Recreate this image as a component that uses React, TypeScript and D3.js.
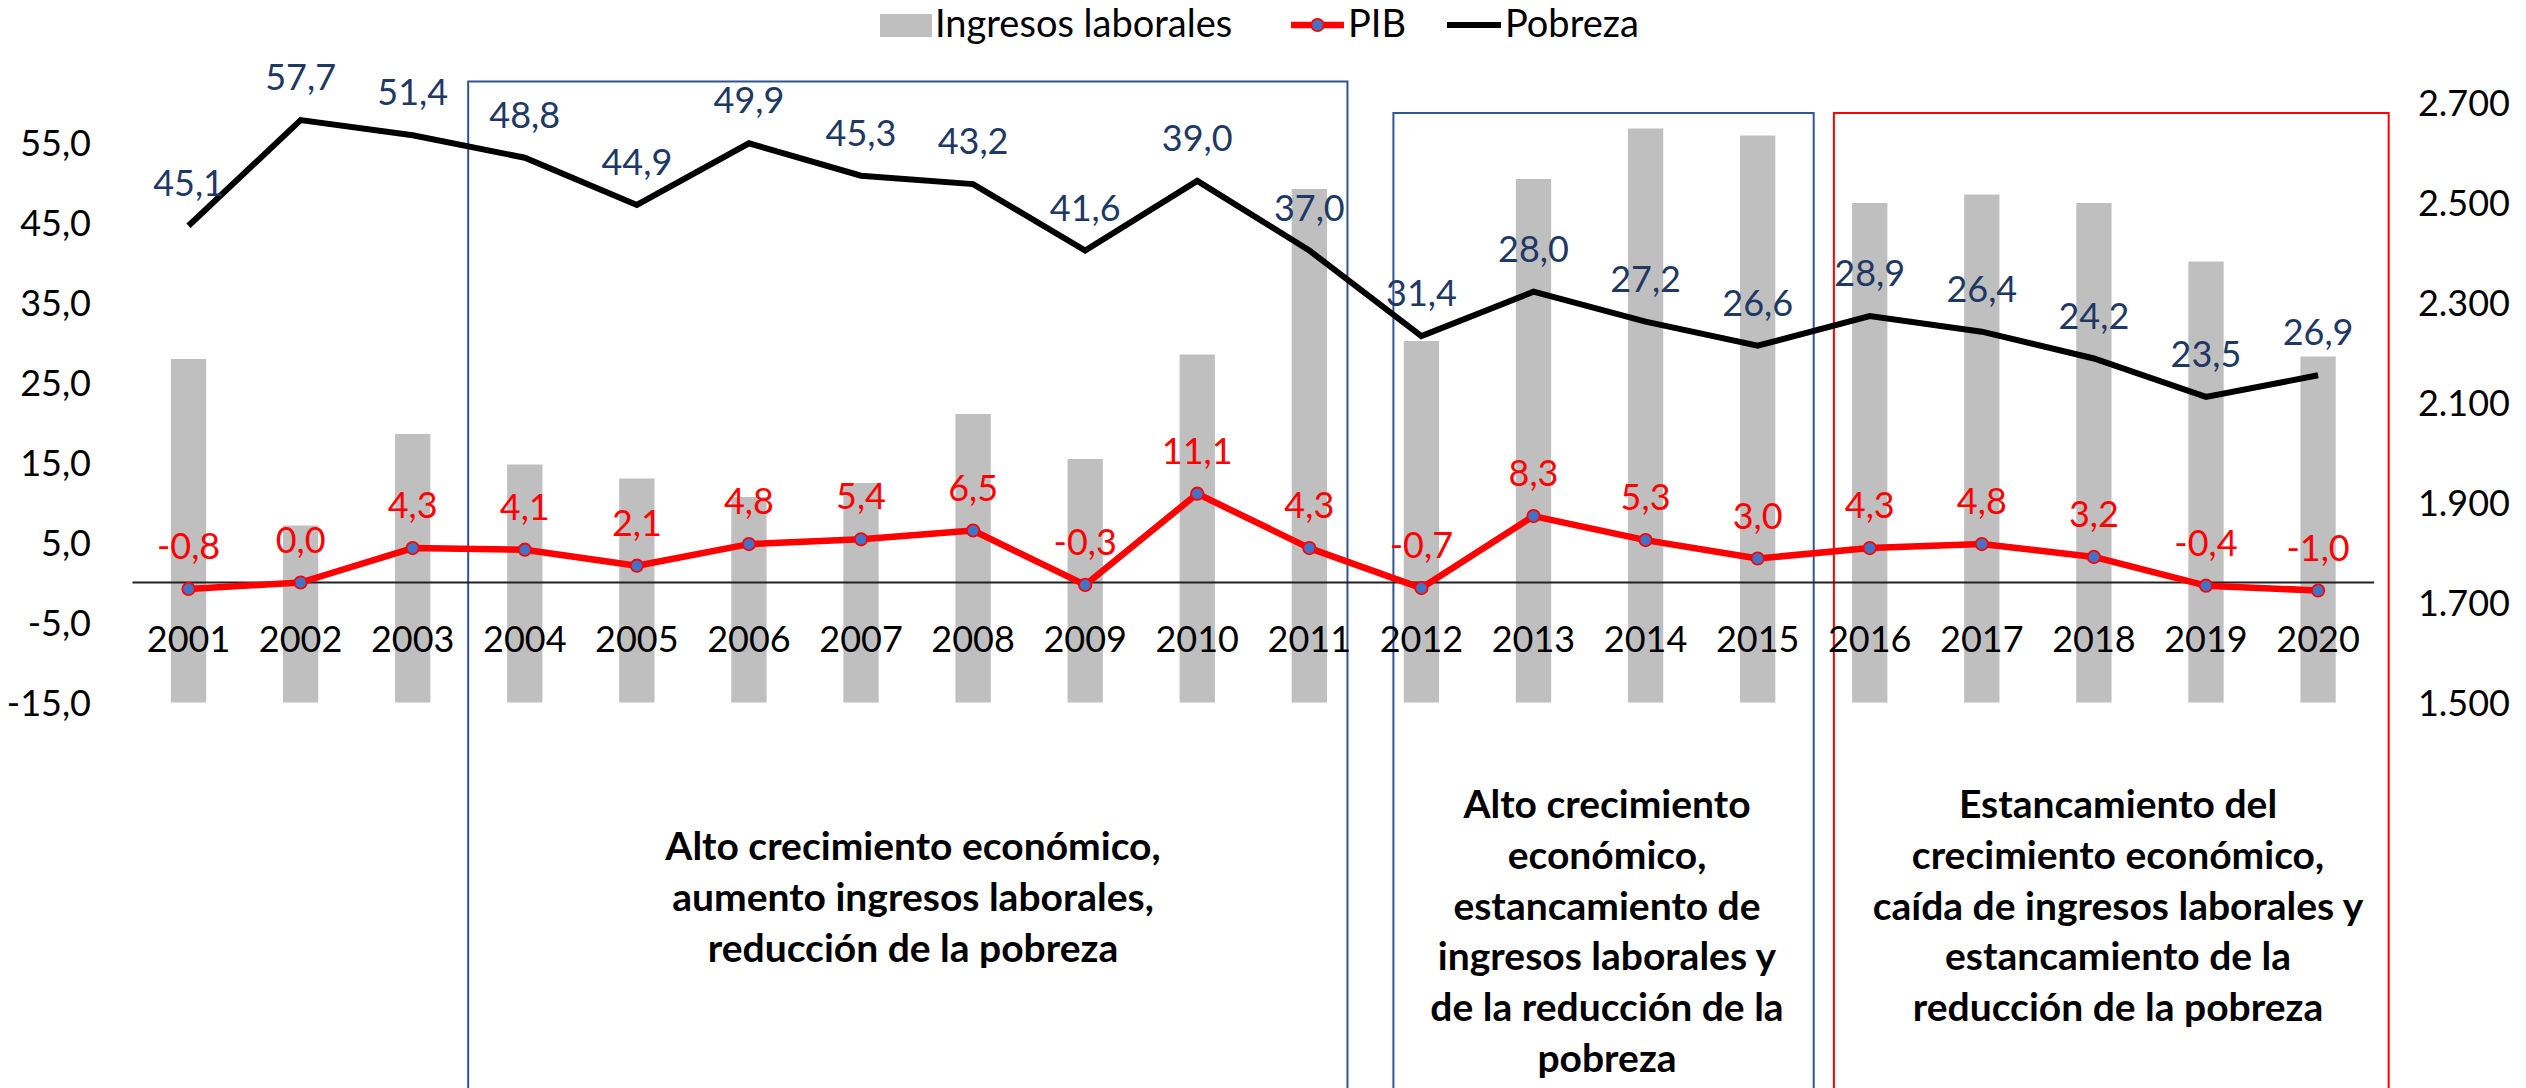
import React, { useEffect } from "react";
import * as d3 from "d3";

const years = ["2001","2002","2003","2004","2005","2006","2007","2008","2009","2010","2011","2012","2013","2014","2015","2016","2017","2018","2019","2020"];
// Ingresos laborales (right axis)
const ingresos = [2187, 1854, 2037, 1976, 1948, 1911, 1939, 2077, 1987, 2196, 2527, 2223, 2547, 2648, 2634, 2499, 2516, 2499, 2382, 2192];
// PIB growth (left axis)
const pib = [-0.8, 0.0, 4.3, 4.1, 2.1, 4.8, 5.4, 6.5, -0.3, 11.1, 4.3, -0.7, 8.3, 5.3, 3.0, 4.3, 4.8, 3.2, -0.4, -1.0];
// Pobreza line as plotted (left axis)
const pobreza = [44.6, 57.8, 55.9, 53.1, 47.2, 54.9, 50.85, 49.8, 41.5, 50.2, 41.5, 30.8, 36.35, 32.6, 29.6, 33.3, 31.35, 28.0, 23.2, 25.9];
// Pobreza data-label values as printed
const pobrezaLabels = [45.1, 57.7, 51.4, 48.8, 44.9, 49.9, 45.3, 43.2, 41.6, 39.0, 37.0, 31.4, 28.0, 27.2, 26.6, 28.9, 26.4, 24.2, 23.5, 26.9];

const leftTicks = [-15, -5, 5, 15, 25, 35, 45, 55];
const rightTicks = [1500, 1700, 1900, 2100, 2300, 2500, 2700];

const periods = [
  { from: "2004", to: "2011", color: "#2F5597", lines: ["Alto crecimiento económico,", "aumento ingresos laborales,", "reducción de la pobreza"] },
  { from: "2012", to: "2015", color: "#2F5597", lines: ["Alto crecimiento", "económico,", "estancamiento de", "ingresos laborales y", "de la reducción de la", "pobreza"] },
  { from: "2016", to: "2020", color: "#FF0000", lines: ["Estancamiento del", "crecimiento económico,", "caída de ingresos laborales y", "estancamiento de la", "reducción de la pobreza"] },
];

const W = 2526, H = 1088;
const FONT = "Lato, 'Open Sans', sans-serif";

const fmtComma = (v: number) => d3.format(".1f")(v).replace(".", ",").replace("−", "-");
const fmtThousands = (v: number) => d3.format(",")(v).replace(",", ".");

export default function App() {
  useEffect(() => {
    document.body.style.margin = "0";
  }, []);

  const x = d3.scaleBand<string>().domain(years).range([132.5, 2374.1]).paddingInner(0).paddingOuter(0);
  const step = x.step();
  const cx = (y: string) => (x(y) as number) + step / 2;
  const yL = d3.scaleLinear().domain([-15, 60]).range([702.5, 102.5]);
  const yR = d3.scaleLinear().domain([1500, 2700]).range([702.5, 102.5]);
  const barW = step * 0.315;

  const lineGen = d3.line<number>().x((_, i) => cx(years[i])).y((d) => yL(d));

  // box geometry derived from category positions
  const boxGeom = [
    { x0: cx("2003") + step * 0.495, x1: cx("2011") + step * 0.34, top: 81.5, tx: 913, ty0: 860 },
    { x0: cx("2012") - step * 0.25, x1: cx("2015") + step * 0.5, top: 113, tx: 1607, ty0: 818 },
    { x0: cx("2016") - step * 0.32, x1: cx("2020") + step * 0.63, top: 113, tx: 2118, ty0: 818 },
  ];

  return (
    <svg width={W} height={H} style={{ position: "absolute", left: 0, top: 0, background: "#fff" }} fontFamily={FONT}>
      <rect x={0} y={0} width={W} height={H} fill="#fff" />
      {/* Bars */}
      {ingresos.map((v, i) => (
        <rect key={"b" + i} x={cx(years[i]) - barW / 2} y={yR(v)} width={barW} height={yR(1500) - yR(v)} fill="#BFBFBF" />
      ))}
      {/* Period boxes */}
      {periods.map((p, k) => {
        const g = boxGeom[k];
        return (
          <g key={"p" + k}>
            <rect x={g.x0} y={g.top} width={g.x1 - g.x0} height={H + 20 - g.top} fill="none" stroke={p.color} strokeWidth={2} />
            {p.lines.map((t, j) => (
              <text key={j} x={g.tx} y={g.ty0 + j * 50.8} textAnchor="middle" fontWeight="bold" fontSize={39} fill="#000">{t}</text>
            ))}
          </g>
        );
      })}
      {/* zero line */}
      <line x1={132.5} x2={2374.1} y1={yL(0)} y2={yL(0)} stroke="#222" strokeWidth={1.8} />
      {/* Left axis labels */}
      {leftTicks.map((t) => (
        <text key={"l" + t} x={91} y={yL(t) + 13} textAnchor="end" fontSize={36} fill="#000">{fmtComma(t)}</text>
      ))}
      {/* Right axis labels */}
      {rightTicks.map((t) => (
        <text key={"r" + t} x={2510} y={yR(t) + 13} textAnchor="end" fontSize={36} fill="#000">{fmtThousands(t)}</text>
      ))}
      {/* Category labels */}
      {years.map((y) => (
        <text key={"c" + y} x={cx(y)} y={651.5} textAnchor="middle" fontSize={36} fill="#000">{y}</text>
      ))}
      {/* Pobreza line */}
      <path d={lineGen(pobreza) || ""} fill="none" stroke="#000" strokeWidth={6} strokeLinejoin="miter" />
      {/* PIB line */}
      <path d={lineGen(pib) || ""} fill="none" stroke="#FF0000" strokeWidth={6.5} strokeLinejoin="round" />
      {pib.map((v, i) => (
        <circle key={"m" + i} cx={cx(years[i])} cy={yL(v)} r={6.2} fill="#4472C4" stroke="#FF0000" strokeWidth={1.8} />
      ))}
      {/* Labels */}
      {pobreza.map((v, i) => (
        <text key={"pl" + i} x={cx(years[i])} y={yL(v) - 30} textAnchor="middle" fontSize={36} fill="#203864">{fmtComma(pobrezaLabels[i])}</text>
      ))}
      {pib.map((v, i) => (
        <text key={"gl" + i} x={cx(years[i])} y={yL(v) - 30} textAnchor="middle" fontSize={36} fill="#FF0000">{fmtComma(v)}</text>
      ))}
      {/* Legend */}
      <g>
        <rect x={880} y={14} width={52} height={23} fill="#BFBFBF" />
        <text x={935} y={37} fontSize={38} fill="#000">Ingresos laborales</text>
        <line x1={1291} x2={1344} y1={25} y2={25} stroke="#FF0000" strokeWidth={6.5} />
        <circle cx={1317.5} cy={25} r={6.2} fill="#4472C4" stroke="#FF0000" strokeWidth={1.8} />
        <text x={1348} y={37} fontSize={38} fill="#000">PIB</text>
        <line x1={1447} x2={1501} y1={25} y2={25} stroke="#000" strokeWidth={6} />
        <text x={1505} y={37} fontSize={38} fill="#000">Pobreza</text>
      </g>
    </svg>
  );
}
